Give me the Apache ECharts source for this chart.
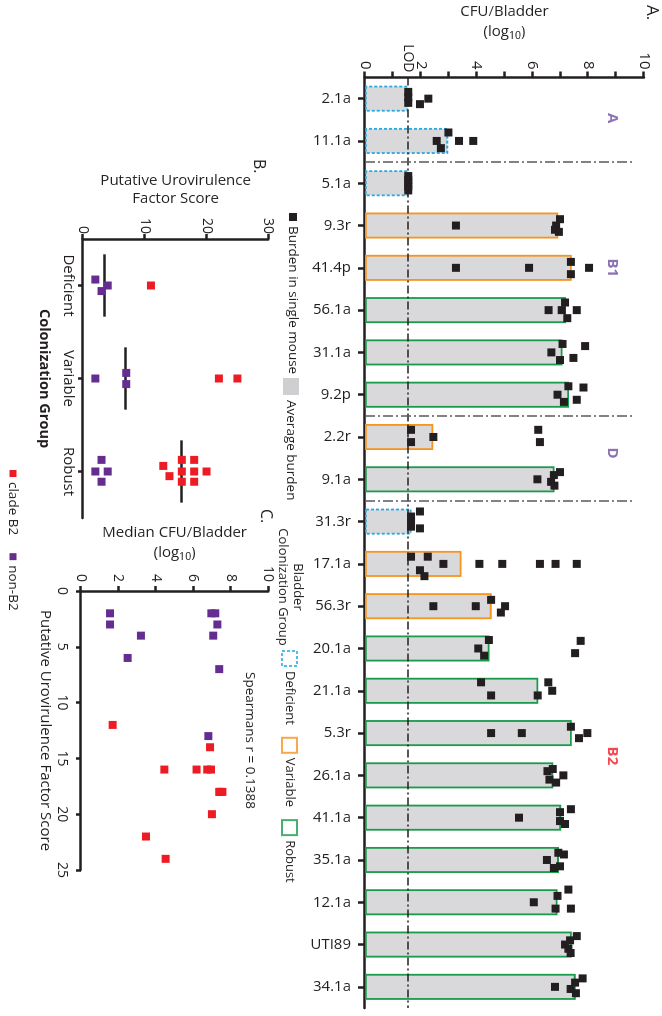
<!DOCTYPE html>
<html><head><meta charset="utf-8">
<script src="https://cdn.jsdelivr.net/npm/echarts@6/dist/echarts.min.js"></script>
<style>
html,body{margin:0;padding:0;width:662px;height:1016px;overflow:hidden;background:#fff;}
#chart{position:absolute;left:662px;top:0;width:1016px;height:662px;transform-origin:0 0;transform:rotate(90deg);}
</style></head><body><div id="chart"></div>
<script>
// ---------- Panel A data ----------
const categories = ['2.1a','11.1a','5.1a','9.3r','41.4p','56.1a','31.1a','9.2p','2.2r','9.1a','31.3r','17.1a','56.3r','20.1a','21.1a','5.3r','26.1a','41.1a','35.1a','12.1a','UTI89','34.1a'];
const colonization = ['Deficient','Deficient','Deficient','Variable','Variable','Robust','Robust','Robust','Variable','Robust','Deficient','Variable','Variable','Robust','Robust','Robust','Robust','Robust','Robust','Robust','Robust','Robust'];
const averageBurden = [1.55,2.98,1.55,6.93,7.41,7.2,7.08,7.31,2.45,6.79,1.67,3.46,4.54,4.46,6.21,7.41,6.75,7.03,6.95,6.9,7.41,7.55];
const mouseBurden = [
  [1.55,1.55,1.55,1.97,2.27],
  [2.99,2.57,2.72,3.37,3.88],
  [1.55,1.55,1.55,1.55,1.55],
  [3.26,6.99,6.85,6.81,6.95],
  [3.26,5.88,7.38,7.38,8.03],
  [6.58,7.17,7.05,7.25,7.59],
  [7.08,7.89,6.68,6.99,7.47],
  [7.29,7.83,6.9,7.13,7.59],
  [1.65,1.65,2.45,6.21,6.27],
  [6.18,6.77,6.99,6.67,6.79],
  [1.65,1.65,1.65,1.97,1.97],
  [1.65,2.25,2.81,1.97,2.13,4.1,4.92,6.27,6.83,7.59],
  [2.45,3.97,4.52,5.02,4.87],
  [4.44,4.06,4.27,7.73,7.53],
  [4.16,4.52,6.19,6.57,6.71],
  [4.52,5.62,7.38,7.67,7.97],
  [6.73,6.54,7.11,6.61,6.85],
  [5.52,6.99,7.38,6.99,7.17],
  [6.93,7.13,6.52,6.99,6.77],
  [7.29,6.9,6.05,6.83,7.38],
  [7.59,7.35,7.17,7.29,7.37],
  [6.81,7.8,7.53,7.37,7.56]
];
const mouseJitter = [
  [-0.16,-0.03,0.1,0.13,0],
  [-0.2,0,0.17,0,0],
  [-0.17,-0.08,0,0.08,0.17],
  [0,-0.15,0,0.1,0.15],
  [0,0,-0.14,0.15,0],
  [0,-0.18,0,0.19,0],
  [-0.2,-0.15,0,0.18,0.13],
  [-0.2,-0.17,0,0.17,0.12],
  [-0.17,0.12,0,-0.17,0.12],
  [0,-0.1,-0.17,0.06,0.15],
  [-0.12,0,0.12,-0.24,0.16],
  [-0.17,-0.17,0,0.15,0.29,0,0,0,0,0],
  [0,0,-0.15,0,0.15],
  [-0.2,0,0.17,-0.18,0.11],
  [-0.2,0.11,0.11,-0.2,0],
  [0,0,-0.15,0.12,0],
  [-0.15,-0.1,0,0.1,0.17],
  [0,-0.13,-0.2,0.08,0.15],
  [-0.17,-0.13,0,0.15,0.19],
  [-0.3,-0.15,0,0.15,0.15],
  [-0.2,-0.1,0,0.1,0.2],
  [0,-0.2,-0.1,0.05,0.15]
];
const LOD = 1.55;
const cladeBreaks = [1.5,7.5,9.5];
const cladeLabels = ['A','B1','D','B2'];
const cladeLabelAt = [0.46,4.0,8.38,15.54];
const valueTicksA = [0,2,4,6,8,10];

// ---------- Panel B data ----------
const bCategories = ['Deficient','Variable','Robust'];
const bNonB2Scores = [[2,4,3],[2,7,7],[3,2,4,3]];
const bNonB2Jitter = [[-0.064,0,0.06],[0,-0.06,0.06],[-0.125,0,0,0.11]];
const bB2Scores = [[11],[22,25],[16,18,13,14,16,18,20,16,18]];
const bB2Jitter = [[0],[0,0],[-0.125,-0.125,-0.06,0.05,0,0,0,0.11,0.11]];
const bMedian = [3.5,7,16];

// ---------- Panel C data ----------
const cNonB2Score = [2,2,2,3,3,4,4,6,7,13];
const cNonB2Cfu = [1.55,6.96,7.17,1.55,7.28,3.2,7.06,2.49,7.38,6.8];
const cB2Score = [12,14,16,16,16,16,18,18,18,20,22,24];
const cB2Cfu = [1.69,6.89,4.45,6.17,6.74,6.94,7.38,7.45,7.55,6.99,3.47,4.52];
const spearmanText = 'Spearmans r = 0.1388';

// ---------- styles ----------
const INK = '#231f20';
const PURPLE = '#662d91';
const RED = '#ed1c24';
const FONT = 'Open Sans';
const groupColor = {Deficient:'#27aae1', Variable:'#f7941d', Robust:'#1a9a4b'};
const groupBorderType = {Deficient:[3,2], Variable:'solid', Robust:'solid'};

const axisLineStyle = {show:true, onZero:false, lineStyle:{color:INK, width:2.5}};
const tickStyle = (len)=>({show:true, length:len, lineStyle:{color:INK, width:2.5}});
const labelStyle = (size, margin)=>({color:INK, fontSize:size, fontFamily:FONT, margin:margin});

const ptsA = [];
mouseBurden.forEach((arr,i)=>arr.forEach((v,j)=>ptsA.push([i+mouseJitter[i][j], v])));
const ptsBnon = [], ptsBb2 = [];
bNonB2Scores.forEach((arr,g)=>arr.forEach((v,j)=>ptsBnon.push([g+bNonB2Jitter[g][j], v])));
bB2Scores.forEach((arr,g)=>arr.forEach((v,j)=>ptsBb2.push([g+bB2Jitter[g][j], v])));
const ptsCnon = cNonB2Score.map((s,i)=>[s, cNonB2Cfu[i]]);
const ptsCb2 = cB2Score.map((s,i)=>[s, cB2Cfu[i]]);

const nameRich = {
  a:{fontSize:15, fontFamily:FONT, color:INK, lineHeight:20},
  s:{fontSize:10.5, fontFamily:FONT, color:INK, padding:[8,0,0,0]}
};

const chart = echarts.init(document.getElementById('chart'));
chart.setOption({
  animation:false,
  backgroundColor:'#fff',
  textStyle:{fontFamily:FONT},
  grid:[
    {left:77.5, right:8, top:18, bottom:365, outerBoundsMode:'none'},
    {left:239, right:498, top:393.7, bottom:83, outerBoundsMode:'none'},
    {left:591, right:146, top:393.7, bottom:81, outerBoundsMode:'none'}
  ],
  xAxis:[
    {gridIndex:0, type:'category', data:categories, axisLine:axisLineStyle,
     axisTick:Object.assign(tickStyle(7),{alignWithLabel:true}),
     axisLabel:Object.assign(labelStyle(15,14),{rotate:90, interval:0}), splitLine:{show:false}},
    {gridIndex:0, type:'value', min:-0.5, max:21.5, show:false},
    {gridIndex:1, type:'category', data:bCategories, axisLine:axisLineStyle,
     axisTick:Object.assign(tickStyle(5),{alignWithLabel:true}),
     axisLabel:labelStyle(15,7), splitLine:{show:false},
     name:'Colonization Group', nameLocation:'middle', nameGap:31,
     nameTextStyle:{fontSize:14.5, fontWeight:'bold', color:INK, fontFamily:FONT}},
    {gridIndex:1, type:'value', min:-0.5, max:2.5, show:false},
    {gridIndex:2, type:'value', min:0, max:25, interval:5, axisLine:axisLineStyle,
     axisTick:tickStyle(5), axisLabel:labelStyle(14,12), splitLine:{show:false},
     name:'Putative Urovirulence Factor Score', nameLocation:'middle', nameGap:28,
     nameTextStyle:{fontSize:15, color:INK, fontFamily:FONT}}
  ],
  yAxis:[
    {gridIndex:0, type:'value', min:0, max:10, interval:1, axisLine:axisLineStyle,
     axisTick:tickStyle(6),
     axisLabel:Object.assign(labelStyle(15,8),{formatter:(v)=>valueTicksA.indexOf(v)>=0?String(v):''}),
     splitLine:{show:false},
     name:'{a|CFU/Bladder}\n{a|(log}{s|10}{a|)}', nameLocation:'middle', nameRotate:90, nameGap:26,
     nameTextStyle:{rich:nameRich}},
    {gridIndex:1, type:'value', min:0, max:30, interval:10, axisLine:axisLineStyle,
     axisTick:tickStyle(5), axisLabel:labelStyle(14,5), splitLine:{show:false},
     name:'Putative Urovirulence\nFactor Score', nameLocation:'middle', nameRotate:90, nameGap:31,
     nameTextStyle:{fontSize:15, lineHeight:18, color:INK, fontFamily:FONT}},
    {gridIndex:2, type:'value', min:0, max:10, interval:2, axisLine:axisLineStyle,
     axisTick:tickStyle(5), axisLabel:labelStyle(14,9), splitLine:{show:false},
     name:'{a|Median CFU/Bladder}\n{a|(log}{s|10}{a|)}', nameLocation:'middle', nameRotate:90, nameGap:19,
     nameTextStyle:{rich:nameRich}}
  ],
  legend:[
    {data:[{name:'Burden in single mouse', icon:'rect'}], left:213, top:362, padding:0, itemWidth:8, itemHeight:8,
     selectedMode:false, textStyle:{fontSize:13.5, color:INK, fontFamily:FONT}},
    {data:[{name:'Average burden', icon:'rect', itemStyle:{color:'#cfcfd1', borderWidth:0}}], left:378, top:363, padding:0,
     itemWidth:17, itemHeight:16, selectedMode:false, textStyle:{fontSize:13.5, color:INK, fontFamily:FONT}},
    {data:['Deficient','Variable','Robust'].map(n=>({name:n, icon:'rect',
        itemStyle:{color:'rgba(255,255,255,0)', borderColor:groupColor[n], borderWidth:2, borderType:groupBorderType[n]}})),
     left:650, top:364, padding:0, itemWidth:15, itemHeight:15, itemGap:12, selectedMode:false,
     textStyle:{fontSize:13, color:INK, fontFamily:FONT}},
    {data:[{name:'clade B2', icon:'rect'},{name:'non-B2', icon:'rect'}], left:470, top:642, padding:0,
     itemWidth:7, itemHeight:7, itemGap:18, selectedMode:false, textStyle:{fontSize:13.5, color:INK, fontFamily:FONT}}
  ],
  graphic:[
    {type:'text', x:5, y:2, style:{text:'A.', fontSize:17, fontFamily:FONT, fill:INK}},
    {type:'text', x:159, y:395, style:{text:'B.', fontSize:16, fontFamily:FONT, fill:INK}},
    {type:'text', x:509, y:388, style:{text:'C.', fontSize:16, fontFamily:FONT, fill:INK}},
    {type:'text', x:587, y:364, style:{text:'Bladder', fontSize:13, fontFamily:FONT, fill:INK, align:'center', verticalAlign:'middle'}},
    {type:'text', x:587, y:379, style:{text:'Colonization Group', fontSize:13, fontFamily:FONT, fill:INK, align:'center', verticalAlign:'middle'}},
    {type:'text', x:672, y:412, style:{text:spearmanText, fontSize:13.5, fontFamily:FONT, fill:INK, verticalAlign:'middle'}}
  ],
  series:[
    {type:'bar', name:'Average burden', xAxisIndex:0, yAxisIndex:0, barWidth:26, z:2,
     itemStyle:{color:'#d9d9db', borderWidth:1.8},
     data:averageBurden.map((v,i)=>({value:v, itemStyle:{borderColor:groupColor[colonization[i]], borderType:groupBorderType[colonization[i]]}})),
     markLine:{silent:true, symbol:['none','none'], data:[{yAxis:LOD}],
       lineStyle:{color:INK, width:1.6, type:[8,3,2,3]},
       label:{show:true, position:'start', formatter:'LOD', color:INK, fontSize:14, fontFamily:FONT, distance:5}}},
    {type:'scatter', name:'Burden in single mouse', xAxisIndex:1, yAxisIndex:0, symbol:'rect', symbolSize:8, z:5,
     itemStyle:{color:INK, opacity:1}, data:ptsA,
     markLine:{silent:true, symbol:['none','none'], label:{show:false},
       lineStyle:{color:'#58595b', width:1.5, type:[10,3,2,3]},
       data:cladeBreaks.map(b=>[{coord:[b,0]},{coord:[b,9.57]}])}},
    {type:'scatter', name:'cladeLabels', xAxisIndex:1, yAxisIndex:0, symbolSize:1, silent:true, z:6,
     itemStyle:{color:'rgba(0,0,0,0)'},
     label:{show:true, position:'inside', formatter:'{b}', fontSize:15, fontWeight:'bold', fontFamily:FONT},
     data:cladeLabels.map((n,i)=>({name:n, value:[cladeLabelAt[i], 8.85], label:{color:n==='B2'?RED:'#6d4fa3'}}))},
    {type:'scatter', name:'Deficient', xAxisIndex:1, yAxisIndex:0, data:[]},
    {type:'scatter', name:'Variable', xAxisIndex:1, yAxisIndex:0, data:[]},
    {type:'scatter', name:'Robust', xAxisIndex:1, yAxisIndex:0, data:[]},
    {type:'scatter', name:'non-B2', xAxisIndex:3, yAxisIndex:1, symbol:'rect', symbolSize:8, z:5,
     itemStyle:{color:PURPLE, opacity:1}, data:ptsBnon,
     markLine:{silent:true, symbol:['none','none'], label:{show:false},
       lineStyle:{color:INK, width:2.6, type:'solid'},
       data:bMedian.map((m,g)=>[{coord:[g-0.335,m]},{coord:[g+0.335,m]}])}},
    {type:'scatter', name:'clade B2', xAxisIndex:3, yAxisIndex:1, symbol:'rect', symbolSize:8, z:5,
     itemStyle:{color:RED, opacity:1}, data:ptsBb2},
    {type:'scatter', name:'non-B2', xAxisIndex:4, yAxisIndex:2, symbol:'rect', symbolSize:8, z:5,
     itemStyle:{color:PURPLE, opacity:1}, data:ptsCnon},
    {type:'scatter', name:'clade B2', xAxisIndex:4, yAxisIndex:2, symbol:'rect', symbolSize:8, z:5,
     itemStyle:{color:RED, opacity:1}, data:ptsCb2}
  ]
});
</script></body></html>
